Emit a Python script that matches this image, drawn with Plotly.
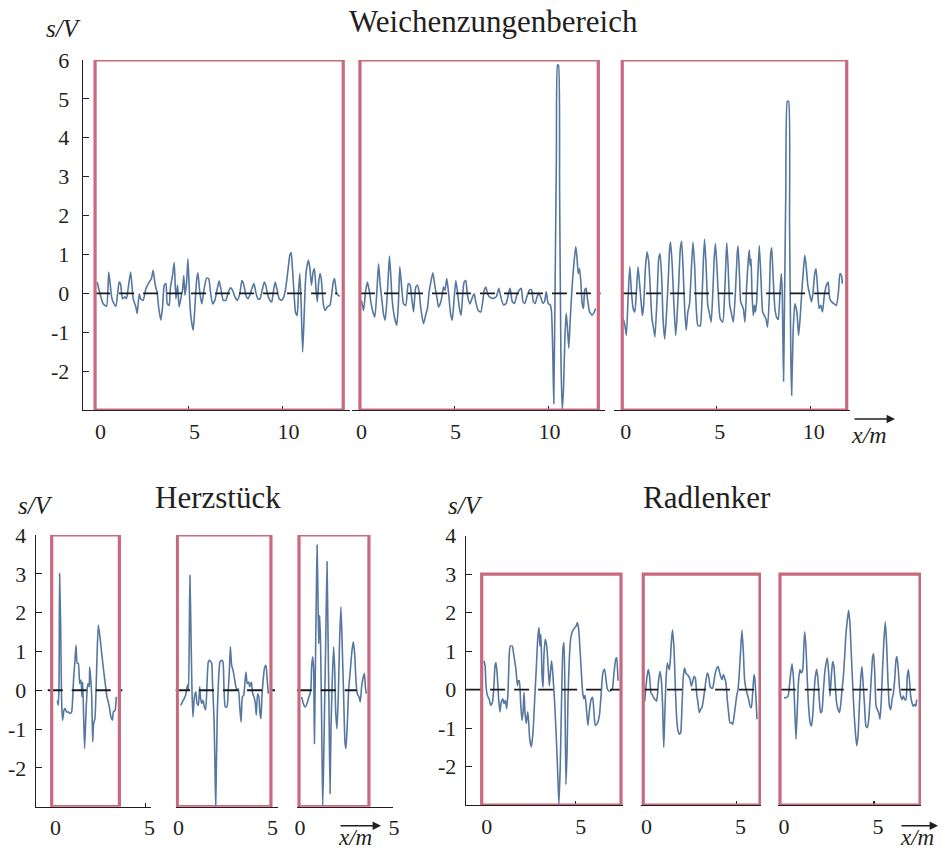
import plotly.graph_objects as go

# ---------------- data (x in m, s in V) ----------------
# Weichenzungenbereich, three measurement runs
weiche_1 = [(0.14,0.29),(0.46,-0.27),(0.64,-0.33),(0.76,0.55),(0.91,-0.09),(0.99,-0.22),(1.14,-0.33),(1.31,0.29),(1.38,0.25),(1.49,-0.14),
            (1.62,-0.09),(1.70,-0.14),(1.79,0.12),(1.92,0.55),(2.06,-0.14),(2.20,-0.35),(2.27,-0.52),(2.38,-0.01),(2.45,-0.14),(2.59,-0.18),
            (2.73,0.12),(2.91,0.29),(3.03,0.38),(3.12,0.59),(3.23,0.21),(3.33,0.03),(3.42,-0.39),(3.53,-0.69),(3.62,-0.35),(3.71,0.21),
            (3.80,0.25),(3.87,-0.27),(3.97,-0.31),(4.04,0.16),(4.15,0.46),(4.24,0.79),(4.33,-0.14),(4.42,0.21),(4.50,-0.35),(4.59,-0.14),
            (4.68,0.08),(4.75,0.46),(4.81,-0.05),(4.90,0.29),(4.97,0.89),(5.07,-0.22),(5.14,-0.65),(5.25,-0.95),(5.34,-0.35),(5.43,0.33),
            (5.50,0.53),(5.60,0.03),(5.71,-0.27),(5.82,0.08),(5.96,0.39),(6.07,0.38),(6.17,0.03),(6.28,-0.27),(6.40,-0.18),(6.53,0.12),
            (6.63,0.32),(6.72,0.12),(6.85,-0.18),(6.99,-0.18),(7.11,0.02),(7.24,0.14),(7.34,0.08),(7.47,-0.09),(7.59,-0.18),(7.73,-0.01),
            (7.84,0.33),(7.95,0.21),(8.05,-0.05),(8.16,-0.14),(8.26,-0.05),(8.37,0.12),(8.48,0.25),(8.58,0.03),(8.69,-0.14),(8.80,-0.14),
            (8.92,0.08),(9.03,0.29),(9.11,0.21),(9.20,-0.01),(9.33,-0.18),(9.43,-0.22),(9.51,0.03),(9.61,0.29),(9.72,0.08),(9.82,-0.14),
            (9.95,-0.18),(10.07,-0.09),(10.18,0.16),(10.29,0.59),(10.39,0.98),(10.46,1.05),(10.53,0.63),(10.62,-0.05),(10.69,-0.48),(10.78,-0.57),
            (10.85,0.03),(10.92,0.51),(10.99,-0.22),(11.07,-1.51),(11.14,-0.74),(11.21,0.21),(11.28,0.63),(11.38,0.85),(11.46,0.63),(11.54,0.21),
            (11.63,0.55),(11.70,0.63),(11.78,0.12),(11.85,-0.22),(11.92,0.25),(11.99,0.51),(12.06,0.38),(12.17,-0.27),(12.27,-0.44),(12.38,-0.35),
            (12.52,-0.31),(12.61,-0.05),(12.70,0.29),(12.77,0.38),(12.87,0.03),(12.96,-0.05),(13.05,-0.08)]

weiche_2 = [(0.05,-0.18),(0.16,-0.44),(0.28,0.08),(0.37,0.29),(0.48,0.03),(0.55,-0.22),(0.64,-0.44),(0.76,-0.61),(0.87,0.03),(0.96,0.76),
            (1.05,0.21),(1.13,-0.14),(1.22,-0.52),(1.31,-0.69),(1.40,-0.22),(1.49,0.55),(1.54,0.96),(1.61,0.46),(1.68,-0.14),(1.79,-0.57),
            (1.93,-0.82),(2.02,-0.22),(2.09,0.68),(2.18,0.21),(2.29,-0.27),(2.41,-0.31),(2.54,0.25),(2.64,0.21),(2.73,-0.14),(2.82,-0.48),
            (2.94,0.16),(3.03,0.21),(3.12,0.03),(3.21,-0.39),(3.35,-0.78),(3.46,-0.57),(3.56,-0.39),(3.65,0.03),(3.74,0.29),(3.85,0.53),
            (3.95,0.21),(4.06,-0.09),(4.15,-0.35),(4.24,-0.27),(4.36,-0.01),(4.41,0.16),(4.49,0.08),(4.59,0.38),(4.68,0.03),(4.79,-0.52),
            (4.88,-0.69),(4.98,-0.14),(5.07,0.33),(5.16,0.03),(5.25,-0.35),(5.35,-0.57),(5.44,-0.01),(5.51,0.29),(5.60,0.33),(5.69,-0.05),
            (5.82,-0.27),(5.96,-0.09),(6.05,-0.01),(6.13,-0.22),(6.26,-0.44),(6.40,-0.48),(6.51,-0.18),(6.58,0.08),(6.67,0.16),(6.76,-0.01),
            (6.86,-0.09),(7.04,-0.13),(7.22,-0.09),(7.36,0.13),(7.48,-0.13),(7.61,-0.30),(7.75,-0.26),(7.89,0.04),(7.96,0.13),(8.07,-0.21),
            (8.19,-0.26),(8.32,-0.04),(8.46,0.09),(8.55,0.13),(8.64,-0.21),(8.74,-0.26),(8.85,-0.09),(8.99,0.09),(9.10,0.09),(9.19,-0.21),
            (9.29,-0.26),(9.43,-0.04),(9.52,-0.04),(9.61,-0.13),(9.70,-0.26),(9.79,-0.21),(9.88,0.04),(9.98,-0.26),(10.09,-0.30),(10.16,-0.47),
            (10.23,-1.59),(10.28,-2.83),(10.35,0.13),(10.42,3.56),(10.48,5.87),(10.53,5.87),(10.59,2.70),(10.66,-1.59),(10.73,-3.00),(10.80,-2.44),
            (10.87,-1.16),(10.94,-0.51),(11.01,-0.90),(11.08,-1.41),(11.15,-0.73),(11.26,0.21),(11.36,0.81),(11.45,1.20),(11.52,0.90),(11.58,0.51),
            (11.65,0.64),(11.72,0.30),(11.79,-0.26),(11.86,-0.39),(11.93,0.09),(12.00,0.13),(12.07,-0.13),(12.18,-0.47),(12.31,-0.56),(12.41,-0.51),
            (12.50,-0.39)]

weiche_3 = [(0.02,-0.65),(0.11,-0.82),(0.19,-1.08),(0.28,-0.14),(0.37,0.68),(0.46,0.03),(0.55,-0.39),(0.64,-0.48),(0.72,0.03),(0.81,0.68),
            (0.90,0.21),(0.99,-0.31),(1.04,-0.57),(1.11,-0.31),(1.20,0.63),(1.29,1.06),(1.38,0.81),(1.47,0.03),(1.55,-0.65),(1.64,-0.91),
            (1.71,-1.12),(1.82,-0.14),(1.91,0.89),(1.98,1.02),(2.07,0.38),(2.14,-0.65),(2.23,-1.17),(2.31,-0.65),(2.42,0.38),(2.49,1.15),
            (2.54,1.32),(2.63,0.72),(2.72,-0.31),(2.81,-1.08),(2.88,-0.65),(2.97,0.21),(3.06,1.15),(3.13,1.34),(3.20,0.72),(3.29,-0.39),
            (3.37,-0.95),(3.46,-0.48),(3.55,-0.27),(3.64,0.55),(3.73,1.32),(3.82,0.72),(3.90,-0.31),(3.99,-0.82),(4.12,-0.84),(4.20,-0.31),
            (4.29,0.89),(4.35,1.39),(4.43,0.72),(4.52,-0.31),(4.61,-0.52),(4.70,-0.74),(4.79,0.03),(4.86,0.89),(4.93,1.28),(5.02,0.55),
            (5.11,-0.31),(5.18,-0.65),(5.32,-0.74),(5.42,0.03),(5.49,0.89),(5.53,1.30),(5.60,0.72),(5.69,-0.31),(5.78,-0.52),(5.88,-0.74),
            (5.99,0.03),(6.08,0.98),(6.13,1.22),(6.20,0.55),(6.27,-0.22),(6.34,-0.31),(6.41,-0.39),(6.50,-0.74),(6.59,0.21),(6.68,0.89),
            (6.73,1.11),(6.77,0.72),(6.82,0.89),(6.87,0.03),(6.94,-0.57),(7.00,-0.31),(7.05,-0.48),(7.12,-0.22),(7.19,0.55),(7.26,1.23),
            (7.35,0.38),(7.44,-0.48),(7.53,-0.57),(7.61,-0.65),(7.70,-0.87),(7.79,-0.14),(7.86,0.98),(7.92,1.17),(8.00,0.38),(8.09,-0.39),
            (8.18,-0.61),(8.27,-0.67),(8.36,0.03),(8.43,0.51),(8.48,0.03),(8.55,-2.26),(8.60,-0.31),(8.67,2.60),(8.75,4.94),(8.82,4.94),
            (8.87,1.75),(8.94,-1.68),(8.98,-2.62),(9.06,-0.99),(9.15,-0.27),(9.26,-0.48),(9.35,-1.08),(9.43,-0.65),(9.52,0.03),(9.61,0.63),
            (9.68,0.98),(9.75,0.72),(9.84,0.21),(9.95,-0.05),(10.04,-0.22),(10.12,0.03),(10.21,0.51),(10.28,0.63),(10.35,0.21),(10.44,-0.39),
            (10.53,-0.31),(10.62,-0.48),(10.72,-0.05),(10.83,0.21),(10.92,0.29),(11.01,-0.14),(11.11,-0.22),(11.24,-0.27),(11.36,-0.31),(11.47,0.03),
            (11.55,0.51),(11.63,0.46),(11.68,0.25)]

# Herzstück, three measurement runs
herz_1 = [(0.31,-0.26),(0.36,-0.39),(0.40,0.17),(0.43,3.01),(0.49,1.55),(0.54,-0.34),(0.59,-0.77),(0.66,-0.52),(0.72,-0.47),(0.81,-0.56),
          (0.90,-0.56),(0.98,-0.60),(1.07,-0.56),(1.13,-0.17),(1.18,0.34),(1.25,0.77),(1.30,1.16),(1.37,0.69),(1.43,0.69),(1.50,0.17),
          (1.57,0.26),(1.62,-0.17),(1.66,0.21),(1.71,-0.69),(1.76,-1.50),(1.84,-0.52),(1.91,0.09),(1.96,0.17),(2.01,0.09),(2.03,0.60),
          (2.08,0.34),(2.14,-0.17),(2.19,-1.33),(2.24,-0.86),(2.31,-0.73),(2.37,0.00),(2.42,0.86),(2.49,1.68),(2.58,1.37),(2.67,0.95),
          (2.77,0.52),(2.88,0.09),(2.95,-0.17),(3.02,-0.30),(3.09,-0.47),(3.16,-0.69),(3.24,-0.77),(3.29,-0.56),(3.38,-0.52),(3.45,-0.17)]

herz_2 = [(0.17,-0.39),(0.26,-0.30),(0.36,-0.21),(0.43,-0.13),(0.51,0.09),(0.56,0.15),(0.59,0.00),(0.63,1.55),(0.66,2.96),(0.72,1.37),
          (0.77,0.00),(0.82,-0.69),(0.90,-0.17),(0.97,-0.04),(1.04,-0.34),(1.11,-0.39),(1.18,0.09),(1.23,-0.21),(1.29,-0.34),(1.36,-0.26),
          (1.43,-0.43),(1.50,-0.50),(1.57,0.17),(1.64,0.73),(1.71,0.77),(1.78,0.73),(1.82,0.69),(1.87,0.09),(1.94,-0.69),(1.99,-1.89),
          (2.03,-3.00),(2.07,-1.89),(2.12,-0.52),(2.19,0.34),(2.26,0.73),(2.35,0.77),(2.42,0.73),(2.47,0.09),(2.54,-0.43),(2.63,-0.43),
          (2.70,0.00),(2.76,0.52),(2.81,1.12),(2.88,0.64),(2.95,0.52),(3.02,0.34),(3.09,0.13),(3.16,0.00),(3.24,0.04),(3.31,-0.43),
          (3.38,-0.82),(3.45,-0.17),(3.52,-0.13),(3.59,0.21),(3.64,0.47),(3.71,0.17),(3.79,0.21),(3.84,0.09),(3.93,0.21),(4.00,-0.09),
          (4.07,-0.17),(4.14,-0.34),(4.19,-0.64),(4.26,-0.09),(4.33,-0.17),(4.39,-0.60),(4.44,-0.73),(4.49,-0.17),(4.57,0.34),(4.64,0.60),
          (4.71,0.64),(4.76,0.34),(4.80,0.09),(4.83,-0.09)]

herz_3 = [(0.14,-0.17),(0.23,-0.34),(0.32,-0.43),(0.43,-0.34),(0.50,-0.21),(0.59,-0.09),(0.64,0.09),(0.67,0.60),(0.73,0.86),(0.78,0.52),
          (0.82,-1.37),(0.87,0.52),(0.92,2.40),(0.96,3.74),(1.01,2.40),(1.05,1.20),(1.10,1.93),(1.15,1.12),(1.21,-1.03),(1.26,-3.00),
          (1.31,-1.89),(1.37,-0.17),(1.42,1.20),(1.49,3.31),(1.54,1.55),(1.60,-0.60),(1.65,-2.66),(1.70,-1.03),(1.77,0.26),(1.84,1.12),
          (1.90,0.52),(1.95,-0.52),(2.02,-0.99),(2.09,-0.17),(2.16,1.29),(2.23,2.15),(2.30,1.12),(2.38,-0.26),(2.45,-1.37),(2.50,-1.50),
          (2.57,-0.86),(2.64,0.00),(2.73,0.52),(2.82,1.03),(2.89,1.25),(2.96,0.95),(3.03,0.26),(3.10,-0.09),(3.19,-0.17),(3.26,-0.30),
          (3.33,0.09),(3.42,0.34),(3.48,0.43),(3.53,0.09),(3.58,-0.09)]

# Radlenker, three measurement runs
rad_1 = [(0.12,0.75),(0.18,0.62),(0.23,0.10),(0.30,-0.15),(0.39,-0.24),(0.48,-0.41),(0.57,-0.33),(0.64,0.02),(0.71,0.62),(0.76,0.70),
         (0.83,0.36),(0.90,-0.24),(0.97,-0.58),(1.04,-0.33),(1.12,-0.24),(1.19,-0.37),(1.26,-0.28),(1.33,-0.50),(1.40,-0.07),(1.47,0.96),
         (1.52,1.13),(1.63,1.13),(1.70,0.92),(1.77,0.70),(1.82,0.53),(1.90,0.10),(1.95,0.23),(2.00,0.23),(2.07,-0.33),(2.14,-0.80),
         (2.20,-0.58),(2.25,-0.07),(2.30,-0.58),(2.37,-0.88),(2.45,-0.58),(2.50,-0.84),(2.55,-1.27),(2.64,-1.49),(2.73,-1.10),(2.82,-0.24),
         (2.91,0.62),(2.99,1.39),(3.05,1.61),(3.10,1.13),(3.15,1.43),(3.21,0.36),(3.26,0.06),(3.31,0.88),(3.38,1.31),(3.46,1.13),
         (3.53,0.62),(3.60,0.10),(3.67,0.53),(3.72,0.75),(3.79,0.36),(3.88,-0.33),(3.97,-1.27),(4.06,-2.39),(4.11,-2.98),(4.18,-1.96),
         (4.25,-0.24),(4.32,1.05),(4.38,1.22),(4.43,-0.24),(4.48,-2.47),(4.54,-1.62),(4.59,-0.24),(4.66,0.79),(4.73,1.31),(4.80,1.48),
         (4.88,1.56),(4.95,1.61),(5.02,1.65),(5.09,1.74),(5.16,1.56),(5.23,1.05),(5.30,0.45),(5.37,-0.07),(5.44,-0.24),(5.50,-0.15),
         (5.57,-0.50),(5.65,-0.93),(5.74,-0.50),(5.83,-0.24),(5.90,-0.20),(5.97,-0.58),(6.04,-0.93),(6.15,-0.88),(6.26,-0.67),(6.36,-0.07),
         (6.45,0.45),(6.54,0.53),(6.61,0.27),(6.68,0.02),(6.75,-0.03),(6.86,-0.03),(6.95,0.02),(7.04,0.45),(7.13,0.79),(7.18,0.83),
         (7.25,0.23)]

rad_2 = [(0.12,-0.30),(0.17,0.00),(0.24,0.34),(0.31,0.52),(0.38,0.34),(0.45,-0.09),(0.52,-0.13),(0.59,-0.21),(0.66,-0.26),(0.74,-0.30),
         (0.79,-0.17),(0.86,0.26),(0.93,0.47),(1.00,0.26),(1.07,-0.43),(1.13,-1.50),(1.18,-0.77),(1.25,0.26),(1.32,0.69),(1.37,0.60),
         (1.43,0.52),(1.48,0.77),(1.55,1.33),(1.60,1.55),(1.68,1.03),(1.75,0.00),(1.82,-0.77),(1.89,-1.07),(1.96,-1.16),(2.03,-1.12),
         (2.10,-0.43),(2.17,0.34),(2.24,0.56),(2.31,0.43),(2.38,0.39),(2.46,0.34),(2.53,0.26),(2.60,0.09),(2.67,0.21),(2.74,0.34),
         (2.81,0.30),(2.88,-0.09),(2.95,-0.34),(3.02,-0.60),(3.09,-0.52),(3.16,-0.47),(3.24,-0.26),(3.31,0.00),(3.38,0.26),(3.45,0.43),
         (3.52,0.34),(3.59,0.09),(3.66,0.04),(3.73,0.04),(3.80,0.21),(3.87,0.43),(3.95,0.56),(4.02,0.60),(4.09,0.47),(4.16,0.34),
         (4.23,0.26),(4.30,0.39),(4.37,0.30),(4.44,0.17),(4.51,-0.26),(4.58,-0.60),(4.65,-0.86),(4.73,-0.86),(4.80,-0.90),(4.87,-0.69),
         (4.94,-0.43),(5.01,-0.17),(5.08,0.00),(5.15,0.43),(5.22,1.03),(5.29,1.55),(5.36,1.03),(5.43,0.26),(5.51,0.00),(5.58,-0.13),
         (5.65,-0.26),(5.72,-0.43),(5.79,-0.47),(5.86,-0.09),(5.93,0.39),(5.98,0.26),(6.04,-0.26),(6.09,-0.77)]

rad_3 = [(0.21,-0.21),(0.32,-0.21),(0.43,-0.17),(0.50,0.09),(0.57,0.43),(0.64,0.67),(0.71,0.34),(0.78,-0.43),(0.85,-1.29),(0.92,-0.52),
         (0.99,0.26),(1.06,0.52),(1.13,0.43),(1.21,0.52),(1.26,1.03),(1.31,1.50),(1.38,1.12),(1.45,0.26),(1.52,-0.43),(1.60,-0.86),
         (1.67,-0.95),(1.74,-0.69),(1.81,-0.09),(1.88,0.34),(1.95,0.53),(2.02,0.26),(2.09,-0.26),(2.16,-0.60),(2.23,-0.56),(2.30,-0.09),
         (2.38,0.43),(2.45,0.69),(2.52,0.82),(2.59,0.43),(2.66,-0.17),(2.73,0.34),(2.80,0.73),(2.87,0.60),(2.94,0.09),(3.01,-0.34),
         (3.09,-0.52),(3.16,-0.60),(3.23,-0.39),(3.30,0.00),(3.37,0.34),(3.44,0.86),(3.51,1.46),(3.58,1.80),(3.65,2.06),(3.72,1.72),
         (3.79,0.95),(3.87,0.09),(3.94,-0.60),(4.01,-1.12),(4.08,-1.46),(4.15,-1.20),(4.22,-0.43),(4.29,0.26),(4.36,0.60),(4.43,0.09),
         (4.50,-0.43),(4.57,-0.95),(4.65,-0.99),(4.72,-0.77),(4.79,-0.26),(4.86,0.34),(4.93,0.86),(4.98,0.93),(5.04,0.43),(5.11,-0.43),
         (5.18,-0.52),(5.25,-0.60),(5.32,-0.77),(5.39,-0.26),(5.46,0.60),(5.53,1.29),(5.60,1.76),(5.67,1.20),(5.74,0.26),(5.82,-0.43),
         (5.89,-0.52),(5.96,-0.26),(6.03,-0.09),(6.10,0.26),(6.17,0.77),(6.22,0.86),(6.28,0.60),(6.35,0.09),(6.42,-0.17),(6.49,-0.26),
         (6.56,-0.17),(6.63,-0.26),(6.70,-0.26),(6.77,0.34),(6.83,0.52),(6.90,0.17),(6.95,-0.17),(7.02,-0.34),(7.09,-0.43),(7.16,-0.39),
         (7.22,-0.43),(7.27,-0.26)]

# evaluation windows (x start, x end in m) and zero-reference extents
windows = [(0.03,13.23),(-0.03,12.65),(-0.03,11.91),
           (0.01,3.61),(-0.01,4.97),(0.0,3.72),
           (0.0,7.41),(0.04,6.25),(0.0,7.45)]
window_s = [(-3,6),(-3,6),(-3,6),(-3,4),(-3,4),(-3,4),(-3,3),(-3,3),(-3,3)]
zero_ref = [(0.03,12.9),(-0.03,12.77),(-0.04,11.43),
            (-0.2,3.77),(-0.13,5.19),(-0.12,3.07),
            (-0.83,7.43),(0.03,6.33),(0.04,7.34)]
series = [weiche_1, weiche_2, weiche_3, herz_1, herz_2, herz_3, rad_1, rad_2, rad_3]

titles = ["Weichenzungenbereich", "Herzstück", "Radlenker"]
x_ticks_top = [0, 5, 10]
x_ticks_bottom = [0, 5]
y_ticks_top = [-2, -1, 0, 1, 2, 3, 4, 5, 6]
y_ticks_bottom = [-2, -1, 0, 1, 2, 3, 4]

# ---------------- layout helpers ----------------
W, H = 942, 849
PX_PER_M = 18.8
def fx(px): return px / W
def fy(py): return 1 - py / H

FONT = "Liberation Serif"
TXT = "#231f20"
BLUE = "#56779f"
RED = "#c9697e"

# pixel geometry of each panel: axis line span, pixel of x=0, label shift, y-axis
geom = [
    dict(span=(83, 350), x0=94.5, shift=6, y="y"),
    dict(span=(352, 605), x0=360.5, shift=1, y="y"),
    dict(span=(614, 850), x0=622.8, shift=3, y="y"),
    dict(span=(36, 151), x0=51.5, shift=4, y="y2"),
    dict(span=(175.7, 277.7), x0=177.5, shift=1, y="y2"),
    dict(span=(296.7, 393.3), x0=299, shift=1, y="y2"),
    dict(span=(466, 623), x0=481.7, shift=5, y="y3"),
    dict(span=(641, 761), x0=642.5, shift=4, y="y3"),
    dict(span=(778, 921), x0=780, shift=4, y="y3"),
]

fig = go.Figure()
layout = dict(width=W, height=H, autosize=False,
              margin=dict(l=0, r=0, t=0, b=0, pad=0, autoexpand=False),
              paper_bgcolor="white", plot_bgcolor="white", showlegend=False)
shapes = []

for i, (pts, g) in enumerate(zip(series, geom)):
    n = i + 1
    xname = "x" if n == 1 else f"x{n}"
    xkey = "xaxis" if n == 1 else f"xaxis{n}"
    a, b = g["span"]
    layout[xkey] = dict(
        domain=[fx(a), fx(b)],
        range=[(a - g["x0"]) / PX_PER_M, (b - g["x0"]) / PX_PER_M],
        anchor=g["y"], showline=True, linecolor=TXT, linewidth=1.3, automargin=False,
        showgrid=False, zeroline=False, ticks="inside", ticklen=4, tickwidth=1.1,
        tickcolor=TXT, tickvals=x_ticks_top if n <= 3 else x_ticks_bottom,
        tickfont=dict(family=FONT, size=22, color=TXT),
        ticklabelshift=g["shift"], ticklabelstandoff=1, fixedrange=True,
    )
    xs = [p[0] for p in pts]
    ys = [p[1] for p in pts]
    fig.add_trace(go.Scatter(x=xs, y=ys, mode="lines", xaxis=xname, yaxis=g["y"],
                             line=dict(color=BLUE, width=1.6, shape="spline", smoothing=0.5),
                             hoverinfo="skip"))
    z0, z1 = zero_ref[i]
    fig.add_trace(go.Scatter(x=[z0, z1], y=[0, 0], mode="lines", xaxis=xname, yaxis=g["y"],
                             line=dict(color="#1a1a1a", width=1.8, dash="15px,9px"),
                             hoverinfo="skip"))
    w0, w1 = windows[i]
    s0, s1 = window_s[i]
    shapes.append(dict(type="rect", xref=xname, yref=g["y"], x0=w0, x1=w1, y0=s0, y1=s1,
                       line=dict(color=RED, width=3.2), fillcolor="rgba(0,0,0,0)", layer="above"))

def yaxis(domain, rng, ticks, anchor, standoff):
    return dict(domain=domain, range=rng, anchor=anchor, showline=True, linecolor=TXT,
                linewidth=1.3, showgrid=False, zeroline=False, ticks="inside", ticklen=6,
                tickwidth=1.1, tickcolor=TXT, tickvals=ticks, automargin=False,
                ticktext=[str(t) for t in ticks],
                tickfont=dict(family=FONT, size=22, color=TXT),
                ticklabelstandoff=standoff, fixedrange=True)

layout["yaxis"] = yaxis([fy(410), fy(60)], [-3, 6], y_ticks_top, "x", 8)
layout["yaxis2"] = yaxis([fy(806.7), fy(535)], [-3, 4], y_ticks_bottom, "x4", 4)
layout["yaxis3"] = yaxis([fy(805), fy(535.7)], [-3, 4], y_ticks_bottom, "x7", 4)
layout["shapes"] = shapes

ann = []
def text(px, py, s, size, italic=False):
    ann.append(dict(xref="paper", yref="paper", x=fx(px), y=fy(py), text=f"<i>{s}</i>" if italic else s,
                    showarrow=False, xanchor="center", yanchor="middle",
                    font=dict(family=FONT, size=size, color=TXT)))
def arrow(px0, px1, py):
    ann.append(dict(xref="paper", yref="paper", x=fx(px1), y=fy(py), ax=px0 - px1, ay=0,
                    axref="pixel", ayref="pixel", text="", showarrow=True, arrowhead=2,
                    arrowsize=1.2, arrowwidth=1.4, arrowcolor=TXT))

text(493, 22, titles[0], 31)
text(218, 498, titles[1], 31)
text(707, 498, titles[2], 31)
text(63, 28, "s/V", 25, italic=True)
text(35, 505, "s/V", 25, italic=True)
text(465, 505, "s/V", 25, italic=True)
arrow(853, 895, 419)
arrow(339, 381, 825.7)
arrow(900, 938, 825.7)
text(869, 435, "x/m", 24, italic=True)
text(355, 837, "x/m", 23, italic=True)
text(917, 837, "x/m", 23, italic=True)
layout["annotations"] = ann

fig.update_layout(**layout)
fig.write_html(
    "out.html",
    config={"displayModeBar": False, "staticPlot": True},
    post_script=(
        "document.documentElement.style.margin='0';document.documentElement.style.overflow='hidden';"
        "document.body.style.margin='0';document.body.style.padding='0';document.body.style.overflow='hidden';"
        "var d=document.getElementById('{plot_id}');d.style.position='fixed';d.style.left='0px';d.style.top='0px';"
    ),
)
